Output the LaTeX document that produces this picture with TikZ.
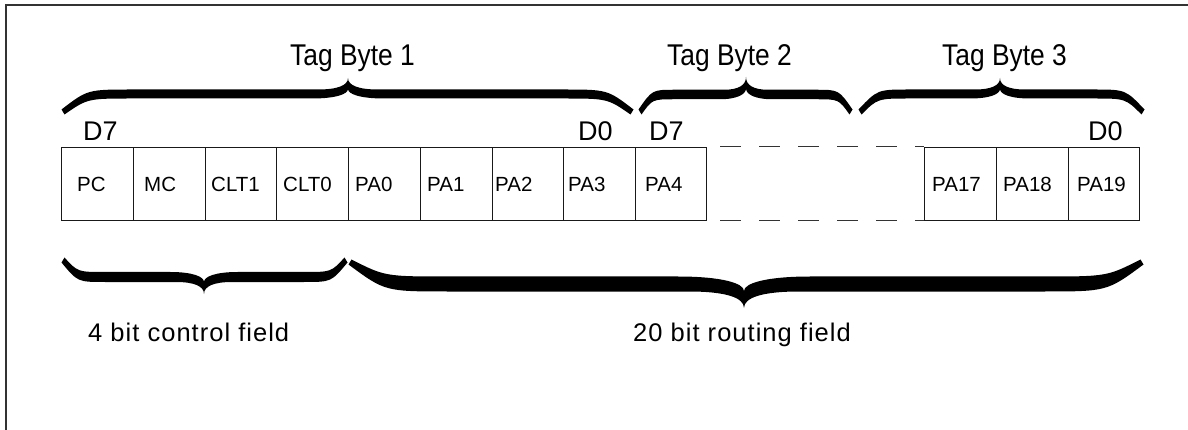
\documentclass[tikz,border=0pt]{standalone}
\usepackage{fontspec}
\setmainfont{Liberation Sans}
\newfontfamily\tagfont{Liberation Sans}[FakeStretch=0.88]
\newfontfamily\fldfont{Liberation Sans}[LetterSpace=4]
\newcommand\brc[9]{%
 \pgfmathsetmacro\bs{(#6>#5)?1:-1}%
 \pgfmathsetmacro\yA{#5+\bs*#7/2}%
 \pgfmathsetmacro\yB{#5-\bs*#7/2}%
 \pgfmathsetmacro\yI{#6-\bs*(#7+2)}%
 \pgfmathsetmacro\eA{#4+\bs*2.5}%
 \pgfmathsetmacro\eB{#4-\bs*2.5}%
 \pgfmathsetmacro\cA{\yA+(#6-\yA)*0.35}%
 \pgfmathsetmacro\cI{\yB+(\yI-\yB)*0.45}%
 \pgfmathsetmacro\xa{#1-1.5}\pgfmathsetmacro\xb{#1+1.5}%
 \pgfmathsetmacro\xc{#2+1.5}\pgfmathsetmacro\xd{#2-1.5}%
 \pgfmathsetmacro\La{#1+#8}\pgfmathsetmacro\Lb{#2-#8}%
 \pgfmathsetmacro\pa{#1+0.35*#8}\pgfmathsetmacro\pb{#2-0.35*#8}%
 \pgfmathsetmacro\Ma{#3-#9}\pgfmathsetmacro\Mb{#3+#9}%
 \pgfmathsetmacro\qa{#3-0.35*#9}\pgfmathsetmacro\qb{#3+0.35*#9}%
 \pgfmathsetmacro\Mc{#3-1.2*#9}\pgfmathsetmacro\Md{#3+1.2*#9}%
 \pgfmathsetmacro\ra{#3-0.42*#9}\pgfmathsetmacro\rb{#3+0.42*#9}%
 \fill (\xa,\eA) .. controls (\pa,\yA) .. (\La,\yA) -- (\Ma,\yA)
   .. controls (\qa,\yA) and (#3,\cA) .. (#3,#6)
   .. controls (#3,\cA) and (\qb,\yA) .. (\Mb,\yA) -- (\Lb,\yA)
   .. controls (\pb,\yA) .. (\xc,\eA) -- (\xd,\eB)
   .. controls (\pb,\yB) .. (\Lb,\yB) -- (\Md,\yB)
   .. controls (\rb,\yB) and (#3,\cI) .. (#3,\yI)
   .. controls (#3,\cI) and (\ra,\yB) .. (\Mc,\yB) -- (\La,\yB)
   .. controls (\pa,\yB) .. (\xb,\eB) -- cycle;%
}
\begin{document}
\begin{tikzpicture}[x=1pt,y=-1pt,
  cellbox/.style={draw=black!90,line width=0.9pt,inner sep=0pt,outer sep=0pt,minimum height=73.5pt},
  celltxt/.style={anchor=base west,inner sep=0pt,font=\fontsize{20.5}{24}\selectfont},
  dtxt/.style={anchor=base west,inner sep=0pt,font=\fontsize{27}{32}\selectfont},
  tagtxt/.style={anchor=base west,inner sep=0pt,font=\tagfont\fontsize{30}{36}\selectfont},
  fldtxt/.style={anchor=base west,inner sep=0pt,font=\fldfont\fontsize{25.5}{30}\selectfont},
  gapline/.style={draw=black!80,line width=1pt,dash pattern=on 21pt off 18pt,dash phase=25pt}]
\useasboundingbox (0,0) rectangle (1188,430);
\draw[black!80,line width=1.3pt] (6,430) -- (6,5) -- (1188,5);
% cells
\foreach \a/\b/\tx/\lab [count=\i] in {61/133/77/PC,133/205/144/MC,205/276/211/CLT1,276/348/283/CLT0,348/420/355/PA0,420/492/427/PA1,492/563/495/PA2,563/635/568/PA3,635/706/645/PA4,924/996/932/PA17,996/1068/1003/PA18,1068/1139/1077/PA19}{
  \node[cellbox,minimum width={(\b-\a)*1pt}] (cell\i) at ({(\a+\b)/2},183.75) {};
  \node[celltxt] (lab\i) at (\tx,192) {\lab};
}
\draw[gapline] (cell9.north east) -- (cell10.north west);
\draw[gapline] (cell9.south east) -- (cell10.south west);
% bit labels
\node[dtxt] (d7a) at (83,141) {D7};
\node[dtxt] (d0a) at (578,141) {D0};
\node[dtxt] (d7b) at (649,141) {D7};
\node[dtxt] (d0b) at (1088,141) {D0};
% tag byte labels
\node[tagtxt] (tb1) at (290,65.5) {Tag Byte 1};
\node[tagtxt] (tb2) at (667,65.5) {Tag Byte 2};
\node[tagtxt] (tb3) at (942,65.5) {Tag Byte 3};
% braces
\brc{63}{632}{348}{112}{94}{78}{9}{70}{30}
\brc{640}{851}{746}{112}{94.5}{77}{9.5}{35}{22}
\brc{860}{1143}{1000}{112}{94}{78}{9}{50}{25}
\brc{63}{346}{204}{260}{277}{294}{10}{42}{28}
\brc{350}{1142}{744}{262}{284}{308}{15}{100}{55}
% field labels
\node[fldtxt] (f1) at (88,341) {4 bit control field};
\node[fldtxt] (f2) at (633,341) {20 bit routing field};
\end{tikzpicture}
\end{document}
